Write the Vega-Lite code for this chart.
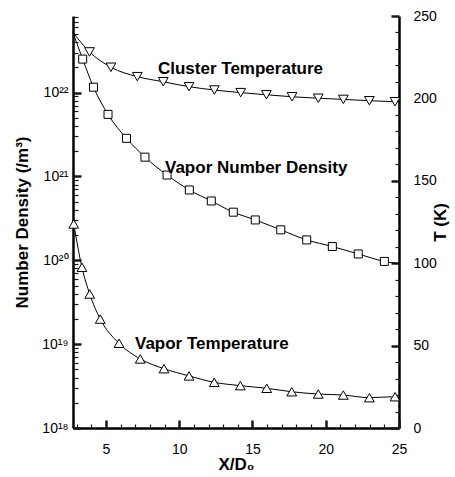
{
  "$schema": "https://vega.github.io/schema/vega-lite/v6.json",
  "width": 326,
  "height": 412,
  "autosize": {"type": "none"},
  "padding": {"left": 73, "top": 16, "right": 56, "bottom": 49},
  "background": "white",
  "config": {
    "font": "Liberation Sans",
    "view": {"stroke": null},
    "axis": {
      "grid": false,
      "labelFont": "Liberation Sans",
      "labelFontSize": 14,
      "labelColor": "black",
      "labelFlush": false,
      "labelOverlap": false,
      "titleFont": "Liberation Sans",
      "titleFontSize": 17,
      "titleFontWeight": "bold",
      "titleColor": "black",
      "domainColor": "black",
      "domainWidth": 2.5,
      "tickColor": "black"
    }
  },
  "datasets": {
    "density": [
      {"x": 2.75, "N": 5.17e22, "marker": false},
      {"x": 3.41, "N": 2.51e22, "marker": true},
      {"x": 4.15, "N": 1.16e22, "marker": true},
      {"x": 5.14, "N": 5.5e21, "marker": true},
      {"x": 6.40, "N": 2.85e21, "marker": true},
      {"x": 7.66, "N": 1.70e21, "marker": true},
      {"x": 9.17, "N": 1.04e21, "marker": true},
      {"x": 10.69, "N": 6.9e20, "marker": true},
      {"x": 12.19, "N": 5.1e20, "marker": true},
      {"x": 13.69, "N": 3.75e20, "marker": true},
      {"x": 15.19, "N": 3.03e20, "marker": true},
      {"x": 16.93, "N": 2.31e20, "marker": true},
      {"x": 18.70, "N": 1.75e20, "marker": true},
      {"x": 20.45, "N": 1.46e20, "marker": true},
      {"x": 22.22, "N": 1.19e20, "marker": true},
      {"x": 24.00, "N": 9.7e19, "marker": true},
      {"x": 25.0, "N": 9.1e19, "marker": false}
    ],
    "temperature": [
      {"series": "cluster", "x": 2.75, "T": 240.0, "marker": false},
      {"series": "cluster", "x": 3.88, "T": 228.2, "marker": true},
      {"series": "cluster", "x": 5.34, "T": 218.9, "marker": true},
      {"series": "cluster", "x": 7.14, "T": 213.2, "marker": true},
      {"series": "cluster", "x": 8.91, "T": 210.1, "marker": true},
      {"series": "cluster", "x": 10.67, "T": 207.1, "marker": true},
      {"series": "cluster", "x": 12.40, "T": 205.1, "marker": true},
      {"series": "cluster", "x": 14.20, "T": 203.5, "marker": true},
      {"series": "cluster", "x": 15.95, "T": 202.2, "marker": true},
      {"series": "cluster", "x": 17.70, "T": 201.0, "marker": true},
      {"series": "cluster", "x": 19.49, "T": 200.1, "marker": true},
      {"series": "cluster", "x": 21.20, "T": 199.4, "marker": true},
      {"series": "cluster", "x": 22.98, "T": 198.6, "marker": true},
      {"series": "cluster", "x": 24.73, "T": 198.0, "marker": true},
      {"series": "cluster", "x": 25.0, "T": 197.9, "marker": false},
      {"series": "vapor", "x": 2.80, "T": 123.8, "marker": true},
      {"series": "vapor", "x": 3.36, "T": 97.5, "marker": true},
      {"series": "vapor", "x": 3.89, "T": 81.3, "marker": true},
      {"series": "vapor", "x": 4.61, "T": 66.1, "marker": true},
      {"series": "vapor", "x": 5.89, "T": 51.4, "marker": true},
      {"series": "vapor", "x": 7.34, "T": 41.9, "marker": true},
      {"series": "vapor", "x": 8.96, "T": 36.0, "marker": true},
      {"series": "vapor", "x": 10.67, "T": 31.6, "marker": true},
      {"series": "vapor", "x": 12.39, "T": 27.7, "marker": true},
      {"series": "vapor", "x": 14.17, "T": 25.7, "marker": true},
      {"series": "vapor", "x": 15.97, "T": 24.1, "marker": true},
      {"series": "vapor", "x": 17.68, "T": 22.0, "marker": true},
      {"series": "vapor", "x": 19.49, "T": 20.6, "marker": true},
      {"series": "vapor", "x": 21.20, "T": 20.0, "marker": true},
      {"series": "vapor", "x": 22.98, "T": 18.4, "marker": true},
      {"series": "vapor", "x": 24.73, "T": 19.0, "marker": true},
      {"series": "vapor", "x": 25.0, "T": 18.3, "marker": false}
    ],
    "densityLabel": [
      {"x": 9.03, "N": 1.11e21, "text": "Vapor Number Density"}
    ],
    "temperatureLabels": [
      {"x": 8.55, "T": 214.8, "text": "Cluster Temperature"},
      {"x": 6.98, "T": 47.9, "text": "Vapor Temperature"}
    ]
  },
  "encoding": {
    "x": {
      "field": "x",
      "type": "quantitative",
      "scale": {"domain": [2.75, 25], "nice": false, "zero": false},
      "axis": null
    }
  },
  "layer": [
    {
      "data": {"name": "density"},
      "mark": {"type": "line", "color": "black", "strokeWidth": 1, "interpolate": "monotone"},
      "encoding": {
        "x": {
          "field": "x",
          "type": "quantitative",
          "scale": {"domain": [2.75, 25], "nice": false, "zero": false},
          "axis": {
            "orient": "bottom",
            "title": "X/D₀",
            "values": [5, 10, 15, 20, 25],
            "ticks": true,
            "tickSize": 8,
            "tickColor": "white",
            "labelPadding": 6,
            "titlePadding": 0
          }
        },
        "y": {
          "field": "N",
          "type": "quantitative",
          "scale": {"type": "log", "domain": [1e18, 8.2e22], "nice": false},
          "axis": {
            "orient": "left",
            "title": "Number Density (/m³)",
            "values": [1e18, 1e19, 1e20, 1e21, 1e22],
            "labelExpr": "['10¹⁸', '10¹⁹', '10²⁰', '10²¹', '10²²'][round(log(datum.value)/LN10) - 18]",
            "ticks": false,
            "labelPadding": 5,
            "titlePadding": 10
          }
        }
      }
    },
    {
      "data": {"name": "density"},
      "transform": [{"filter": "datum.marker"}],
      "mark": {"type": "point", "shape": "square", "size": 64, "filled": true, "fill": "white", "stroke": "black", "strokeWidth": 1, "opacity": 1},
      "encoding": {
        "x": {
          "field": "x",
          "type": "quantitative",
          "scale": {"domain": [2.75, 25], "nice": false, "zero": false},
          "axis": {
            "orient": "bottom",
            "title": null,
            "values": [5, 10, 15, 20, 25],
            "labels": false,
            "domain": false,
            "offset": -8,
            "tickSize": 8,
            "tickWidth": 2.5,
            "tickColor": "#1a1a1a",
            "zindex": 1
          }
        },
        "y": {
          "field": "N",
          "type": "quantitative",
          "scale": {"type": "log", "domain": [1e18, 8.2e22], "nice": false},
          "axis": {
            "orient": "left",
            "title": null,
            "values": [1e18, 1e19, 1e20, 1e21, 1e22],
            "labels": false,
            "domain": false,
            "offset": -8,
            "tickSize": 8,
            "tickColor": "#1a1a1a",
            "tickOpacity": 1,
            "tickWidth": 2.5
          }
        }
      }
    },
    {
      "data": {"name": "densityLabel"},
      "mark": {"type": "text", "align": "left", "baseline": "alphabetic", "font": "Liberation Sans", "fontSize": 17, "fontWeight": "bold", "color": "black"},
      "encoding": {
        "text": {"field": "text"},
        "x": {
          "field": "x",
          "type": "quantitative",
          "scale": {"domain": [2.75, 25], "nice": false, "zero": false},
          "axis": {
            "orient": "bottom",
            "title": null,
            "values": [3, 4, 6, 7, 8, 9, 11, 12, 13, 14, 16, 17, 18, 19, 21, 22, 23, 24],
            "labels": false,
            "domain": false,
            "offset": -4,
            "tickSize": 4,
            "tickColor": "#1a1a1a",
            "tickWidth": 1.2
          }
        },
        "y": {
          "field": "N",
          "type": "quantitative",
          "scale": {"type": "log", "domain": [1e18, 8.2e22], "nice": false},
          "axis": {
            "orient": "left",
            "title": null,
            "values": [2e18, 3e18, 4e18, 5e18, 6e18, 7e18, 8e18, 9e18,
                       2e19, 3e19, 4e19, 5e19, 6e19, 7e19, 8e19, 9e19,
                       2e20, 3e20, 4e20, 5e20, 6e20, 7e20, 8e20, 9e20,
                       2e21, 3e21, 4e21, 5e21, 6e21, 7e21, 8e21, 9e21,
                       2e22, 3e22, 4e22, 5e22, 6e22, 7e22, 8e22],
            "labels": false,
            "domain": false,
            "offset": -5,
            "tickSize": 5,
            "tickColor": "#1a1a1a",
            "tickWidth": 1.2,
            "zindex": 1
          }
        }
      }
    },
    {
      "data": {"name": "temperature"},
      "mark": {"type": "line", "color": "black", "strokeWidth": 1, "interpolate": "monotone"},
      "encoding": {
        "detail": {"field": "series"},
        "y": {
          "field": "T",
          "type": "quantitative",
          "scale": {"domain": [0, 250], "nice": false, "zero": true},
          "axis": {
            "orient": "right",
            "title": "T (K)",
            "titleAngle": -90,
            "values": [0, 50, 100, 150, 200, 250],
            "ticks": true,
            "tickSize": 8,
            "tickColor": "white",
            "labelPadding": 6,
            "titlePadding": 13
          }
        }
      }
    },
    {
      "data": {"name": "temperature"},
      "transform": [{"filter": "datum.marker"}],
      "mark": {"type": "point", "size": 95, "filled": true, "fill": "white", "stroke": "black", "strokeWidth": 1, "opacity": 1},
      "encoding": {
        "shape": {
          "field": "series",
          "type": "nominal",
          "scale": {"domain": ["cluster", "vapor"], "range": ["triangle-down", "triangle-up"]},
          "legend": null
        },
        "y": {
          "field": "T",
          "type": "quantitative",
          "scale": {"domain": [0, 250], "nice": false, "zero": true},
          "axis": {
            "orient": "right",
            "title": null,
            "values": [0, 50, 100, 150, 200, 250],
            "labels": false,
            "domain": false,
            "offset": -8,
            "tickSize": 8,
            "tickColor": "#1a1a1a",
            "tickWidth": 2.5
          }
        }
      }
    },
    {
      "data": {"name": "temperatureLabels"},
      "mark": {"type": "text", "align": "left", "baseline": "alphabetic", "font": "Liberation Sans", "fontSize": 17, "fontWeight": "bold", "color": "black"},
      "encoding": {
        "text": {"field": "text"},
        "y": {
          "field": "T",
          "type": "quantitative",
          "scale": {"domain": [0, 250], "nice": false, "zero": true},
          "axis": {
            "orient": "right",
            "title": null,
            "values": [10, 20, 30, 40, 60, 70, 80, 90, 110, 120, 130, 140, 160, 170, 180, 190, 210, 220, 230, 240],
            "labels": false,
            "domain": false,
            "offset": -4,
            "tickSize": 4,
            "tickColor": "#1a1a1a",
            "tickWidth": 1.2
          }
        }
      }
    }
  ],
  "resolve": {"scale": {"x": "independent", "y": "independent"}}
}
